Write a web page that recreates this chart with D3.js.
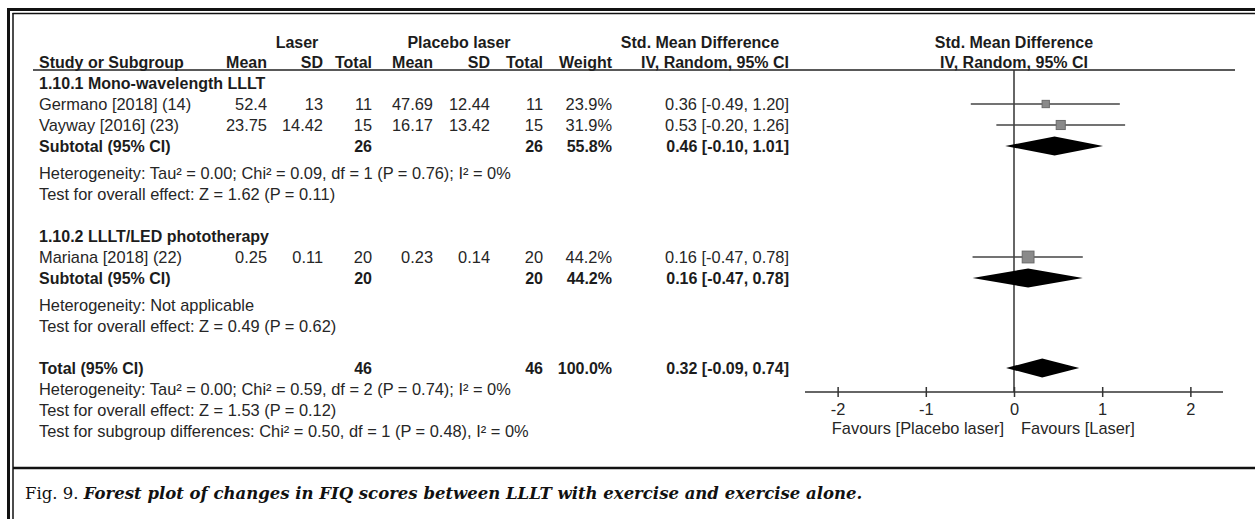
<!DOCTYPE html>
<html>
<head>
<meta charset="utf-8">
<script src="https://cdn.jsdelivr.net/npm/d3@7"></script>
<style>
  body { margin: 0; background: #fff; }
  svg text { font-family: "Liberation Sans", Arial, sans-serif; font-size: 16.4px; fill: #262626; }
  svg text.b { font-weight: bold; font-size: 16px; fill: #1c1c1c; }
  svg text.cap { font-family: "DejaVu Serif", serif; font-size: 16.5px; fill: #111; }
</style>
</head>
<body>
<svg id="chart" width="1255" height="519"></svg>
<script>
// ---- study-level data ----
const studyNames   = ["Germano [2018] (14)", "Vayway [2016] (23)", "Mariana [2018] (22)"];
const studyGroup   = [0, 0, 1];
const laserMean    = [52.4, 23.75, 0.25];
const laserSD      = [13, 14.42, 0.11];
const laserN       = [11, 15, 20];
const placeboMean  = [47.69, 16.17, 0.23];
const placeboSD    = [12.44, 13.42, 0.14];
const placeboN     = [11, 15, 20];
const studyWeight  = [23.9, 31.9, 44.2];
const studySMD     = [0.36, 0.53, 0.16];
const studyLo      = [-0.49, -0.20, -0.47];
const studyHi      = [1.20, 1.26, 0.78];

// ---- subgroup summaries ----
const groupNames     = ["1.10.1 Mono-wavelength LLLT", "1.10.2 LLLT/LED phototherapy"];
const groupLaserN    = [26, 20];
const groupPlaceboN  = [26, 20];
const groupWeight    = [55.8, 44.2];
const groupSMD       = [0.46, 0.16];
const groupLo        = [-0.10, -0.47];
const groupHi        = [1.01, 0.78];
const groupHet       = ["Heterogeneity: Tau² = 0.00; Chi² = 0.09, df = 1 (P = 0.76); I² = 0%",
                        "Heterogeneity: Not applicable"];
const groupTest      = ["Test for overall effect: Z = 1.62 (P = 0.11)",
                        "Test for overall effect: Z = 0.49 (P = 0.62)"];

// ---- overall summary ----
const totalLaserN   = 46;
const totalPlaceboN = 46;
const totalWeight   = 100.0;
const totalSMD      = 0.32;
const totalLo       = -0.09;
const totalHi       = 0.74;
const totalNotes    = ["Heterogeneity: Tau² = 0.00; Chi² = 0.59, df = 2 (P = 0.74); I² = 0%",
                       "Test for overall effect: Z = 1.53 (P = 0.12)",
                       "Test for subgroup differences: Chi² = 0.50, df = 1 (P = 0.48), I² = 0%"];

// ---- axis ----
const axisTicks    = [-2, -1, 0, 1, 2];
const favourLabels = ["Favours [Placebo laser]", "Favours [Laser]"];
const captionLead  = "Fig. 9. ";
const captionBody  = "Forest plot of changes in FIQ scores between LLLT with exercise and exercise alone.";

// ---------------------------------------------------------------
const svg = d3.select("#chart");
const f2 = v => v.toFixed(2);
const ciText = (m, lo, hi) => `${f2(m)} [${f2(lo)}, ${f2(hi)}]`;
const pct = v => v.toFixed(1) + "%";

// column anchors (text-anchor end unless noted)
const col = {
  name: 39, lMean: 267, lSD: 323, lN: 372, pMean: 433, pSD: 490, pN: 543, w: 612, ci: 789
};

const x = d3.scaleLinear().domain([-2.37, 2.37]).range([805, 1223]);
// square side grows with study weight
const sizeScale = d3.scaleLinear().domain([0, 44.2]).range([2, 11.8]);

// frame
const frame = svg.append("g");
frame.append("line").attr("x1", 7).attr("x2", 1255).attr("y1", 9.5).attr("y2", 9.5)
  .attr("stroke", "#111").attr("stroke-width", 3);
frame.append("line").attr("x1", 12.5).attr("x2", 1255).attr("y1", 13.5).attr("y2", 13.5)
  .attr("stroke", "#111").attr("stroke-width", 1.5);
frame.append("line").attr("x1", 8.5).attr("x2", 8.5).attr("y1", 8).attr("y2", 519)
  .attr("stroke", "#111").attr("stroke-width", 3);
frame.append("line").attr("x1", 13).attr("x2", 13).attr("y1", 13).attr("y2", 519)
  .attr("stroke", "#111").attr("stroke-width", 1.5);
frame.append("line").attr("x1", 13).attr("x2", 1255).attr("y1", 468).attr("y2", 468)
  .attr("stroke", "#111").attr("stroke-width", 2.5);

function txt(g, s, xp, y, anchor, bold) {
  return g.append("text").attr("x", xp).attr("y", y + 6)
    .attr("text-anchor", anchor || "end")
    .attr("class", bold ? "b" : null).text(s);
}

// headers
const hdr = svg.append("g");
txt(hdr, "Laser", 297, 42, "middle", true);
txt(hdr, "Placebo laser", 459, 42, "middle", true);
txt(hdr, "Std. Mean Difference", 700, 42, "middle", true);
txt(hdr, "Std. Mean Difference", x(0), 42, "middle", true);
txt(hdr, "Study or Subgroup", col.name, 62, "start", true);
txt(hdr, "Mean", col.lMean, 62, "end", true);
txt(hdr, "SD", col.lSD, 62, "end", true);
txt(hdr, "Total", col.lN, 62, "end", true);
txt(hdr, "Mean", col.pMean, 62, "end", true);
txt(hdr, "SD", col.pSD, 62, "end", true);
txt(hdr, "Total", col.pN, 62, "end", true);
txt(hdr, "Weight", col.w, 62, "end", true);
txt(hdr, "IV, Random, 95% CI", col.ci, 62, "end", true);
txt(hdr, "IV, Random, 95% CI", x(0), 62, "middle", true);
hdr.append("line").attr("x1", 33).attr("x2", 1235).attr("y1", 70).attr("y2", 70)
  .attr("stroke", "#222").attr("stroke-width", 1.5);

// row layout
const rowH = 21, afterSub = 27;
const rows = [];
let y = 83;
groupNames.forEach((gName, g) => {
  rows.push({ type: "group", g, y }); y += rowH;
  studyNames.forEach((s, i) => {
    if (studyGroup[i] === g) { rows.push({ type: "study", i, y }); y += rowH; }
  });
  rows.push({ type: "sub", g, y }); y += afterSub;
  rows.push({ type: "note", text: groupHet[g], y }); y += rowH;
  rows.push({ type: "note", text: groupTest[g], y }); y += rowH;
  y += rowH;
});
rows.push({ type: "total", y }); y += rowH;
totalNotes.forEach(t => { rows.push({ type: "note", text: t, y }); y += rowH; });

const axisY = 392;
const plot = svg.append("g");

// zero reference line
plot.append("line").attr("x1", x(0)).attr("x2", x(0)).attr("y1", 70).attr("y2", axisY)
  .attr("stroke", "#333").attr("stroke-width", 1.5);

const diamondH = 9.5;
function diamond(m, lo, hi, yc) {
  plot.append("path")
    .attr("d", `M${x(lo)},${yc} L${x(m)},${yc - diamondH} L${x(hi)},${yc} L${x(m)},${yc + diamondH} Z`)
    .attr("fill", "#000");
}

const tab = svg.append("g");
rows.forEach(r => {
  if (r.type === "group") {
    txt(tab, groupNames[r.g], col.name, r.y, "start", true);
  } else if (r.type === "study") {
    const i = r.i;
    txt(tab, studyNames[i], col.name, r.y, "start");
    txt(tab, String(laserMean[i]), col.lMean, r.y);
    txt(tab, String(laserSD[i]), col.lSD, r.y);
    txt(tab, String(laserN[i]), col.lN, r.y);
    txt(tab, String(placeboMean[i]), col.pMean, r.y);
    txt(tab, String(placeboSD[i]), col.pSD, r.y);
    txt(tab, String(placeboN[i]), col.pN, r.y);
    txt(tab, pct(studyWeight[i]), col.w, r.y);
    txt(tab, ciText(studySMD[i], studyLo[i], studyHi[i]), col.ci, r.y);
    plot.append("line").attr("x1", x(studyLo[i])).attr("x2", x(studyHi[i]))
      .attr("y1", r.y).attr("y2", r.y).attr("stroke", "#444").attr("stroke-width", 1.5);
    const s = sizeScale(studyWeight[i]);
    plot.append("rect").attr("x", x(studySMD[i]) - s / 2).attr("y", r.y - s / 2)
      .attr("width", s).attr("height", s)
      .attr("fill", "#8a8a8a").attr("stroke", "#6a6a6a").attr("stroke-width", 1);
  } else if (r.type === "sub") {
    const g = r.g;
    txt(tab, "Subtotal (95% CI)", col.name, r.y, "start", true);
    txt(tab, String(groupLaserN[g]), col.lN, r.y, "end", true);
    txt(tab, String(groupPlaceboN[g]), col.pN, r.y, "end", true);
    txt(tab, pct(groupWeight[g]), col.w, r.y, "end", true);
    txt(tab, ciText(groupSMD[g], groupLo[g], groupHi[g]), col.ci, r.y, "end", true);
    diamond(groupSMD[g], groupLo[g], groupHi[g], r.y);
  } else if (r.type === "total") {
    txt(tab, "Total (95% CI)", col.name, r.y, "start", true);
    txt(tab, String(totalLaserN), col.lN, r.y, "end", true);
    txt(tab, String(totalPlaceboN), col.pN, r.y, "end", true);
    txt(tab, pct(totalWeight), col.w, r.y, "end", true);
    txt(tab, ciText(totalSMD, totalLo, totalHi), col.ci, r.y, "end", true);
    diamond(totalSMD, totalLo, totalHi, r.y);
  } else {
    txt(tab, r.text, col.name, r.y, "start");
  }
});

// bottom axis
const axis = d3.axisBottom(x).tickValues(axisTicks).tickSize(5).tickPadding(4)
  .tickFormat(d => String(d));
const ax = svg.append("g").attr("transform", `translate(0,${axisY})`).call(axis);
ax.select(".domain").remove();
ax.append("line").attr("x1", x.range()[0]).attr("x2", x.range()[1])
  .attr("stroke", "#333").attr("stroke-width", 1.5);
ax.selectAll(".tick line").attr("y1", -5).attr("y2", 5).attr("stroke", "#333").attr("stroke-width", 1.5);
ax.selectAll(".tick text").attr("font-size", null).attr("font-family", null)
  .attr("fill", "#262626").attr("y", 11).attr("dy", "0.71em");
ax.attr("font-size", null).attr("font-family", null);

txt(svg, favourLabels[0], x(0) - 10, 428, "end");
txt(svg, favourLabels[1], x(0) + 7, 428, "start");

// caption
const cap = svg.append("text").attr("class", "cap").attr("x", 25).attr("y", 499);
cap.append("tspan").text(captionLead);
cap.append("tspan").attr("font-style", "italic").attr("font-weight", "bold").text(captionBody);
</script>
</body>
</html>
